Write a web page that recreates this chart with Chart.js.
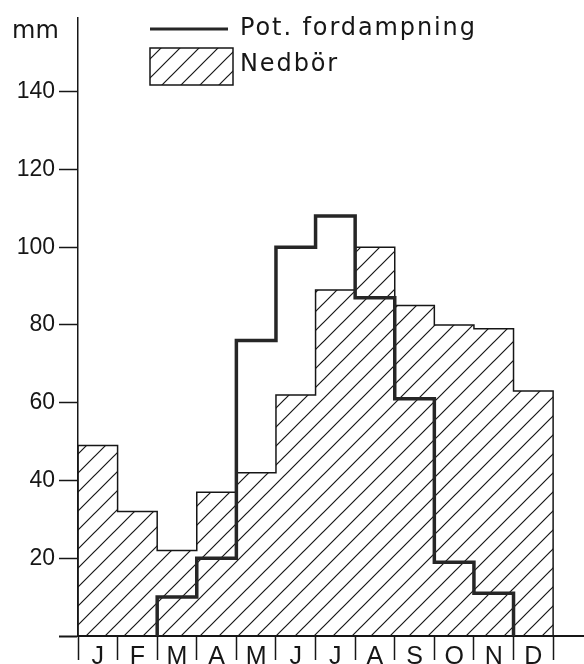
<!DOCTYPE html>
<html>
<head>
<meta charset="utf-8">
<script src="https://cdn.jsdelivr.net/npm/chart.js@4.4.0/dist/chart.umd.min.js"></script>
<style>
  html, body { margin: 0; padding: 0; background: #fff; }
</style>
</head>
<body>
<canvas id="chart" width="584" height="664"></canvas>
<script>
/* DATA */
const months = ["J", "F", "M", "A", "M", "J", "J", "A", "S", "O", "N", "D"];
const nedbor = [49, 32, 22, 37, 42, 62, 89, 100, 85, 80, 79, 63];
const fordampning = [0, 0, 10, 20, 76, 100, 108, 87, 61, 19, 11, 0];
const yTicks = [0, 20, 40, 60, 80, 100, 120, 140];
const seriesNames = ["Pot. fordampning", "Nedbör"];
const yUnit = "mm";

const INK = "#161616";
const yFont = { family: "'Liberation Sans', Arial, sans-serif", size: 23 };
const xFont = { family: "'Liberation Sans Narrow', 'Liberation Sans', Arial, sans-serif", size: 25 };

const canvas = document.getElementById("chart");
const ctx = canvas.getContext("2d");

/* skraverings-mönster */
function hatch(size) {
  const c = document.createElement("canvas");
  c.width = c.height = size;
  const g = c.getContext("2d");
  g.strokeStyle = INK;
  g.lineWidth = 1.2;
  g.beginPath();
  g.moveTo(-2, size + 2); g.lineTo(size + 2, -2);
  g.moveTo(-2, 2); g.lineTo(2, -2);
  g.moveTo(size - 2, size + 2); g.lineTo(size + 2, size - 2);
  g.stroke();
  return ctx.createPattern(c, "repeat");
}

/* month i covers x = i .. i+1 on the linear axis */
function stepPoints(values) {
  let first = values.findIndex(v => v > 0);
  let last = values.length - 1;
  while (last > 0 && values[last] <= 0) last--;
  const pts = [{ x: first, y: 0 }];
  for (let i = first; i <= last; i++) pts.push({ x: i + 1, y: values[i] });
  pts.push({ x: last + 1, y: 0 });
  return pts;
}

const monthTicks = [];
for (let i = 0; i <= months.length; i++) {
  monthTicks.push(i);
  if (i < months.length) monthTicks.push(i + 0.5);
}

/* legend + unit */
const keyPlugin = {
  id: "key",
  afterDraw(chart) {
    const c = chart.ctx;
    const [pet, ned] = chart.data.datasets;
    c.save();
    c.font = "24px 'DejaVu Sans'";
    c.fillStyle = INK;
    c.textBaseline = "alphabetic";
    c.fillText(yUnit, 12, 38);

    c.strokeStyle = pet.borderColor;
    c.lineWidth = 3;
    c.beginPath(); c.moveTo(150, 29); c.lineTo(228, 29); c.stroke();

    c.fillStyle = ned.backgroundColor;
    c.fillRect(150, 48, 83, 37);
    c.strokeStyle = ned.borderColor;
    c.lineWidth = 1.5;
    c.strokeRect(150, 48, 83, 37);

    c.fillStyle = INK;
    c.letterSpacing = "1.9px";
    c.fillText(pet.label, 240, 35);
    c.fillText(ned.label, 240, 71);
    c.restore();
  }
};

new Chart(canvas, {
  type: "line",
  data: {
    datasets: [
      {
        label: seriesNames[0],
        data: stepPoints(fordampning),
        stepped: "after",
        borderColor: "#262626",
        borderWidth: 3.5,
        borderJoinStyle: "miter",
        borderCapStyle: "butt",
        pointRadius: 0,
        fill: false,
        order: 0
      },
      {
        label: seriesNames[1],
        data: stepPoints(nedbor),
        stepped: "after",
        borderColor: INK,
        borderWidth: 1.5,
        borderJoinStyle: "miter",
        backgroundColor: hatch(19),
        pointRadius: 0,
        fill: "origin",
        order: 1
      }
    ]
  },
  options: {
    responsive: false,
    animation: false,
    layout: { padding: { left: 0, top: 13, right: 0, bottom: 0 } },
    plugins: { legend: { display: false }, tooltip: { enabled: false } },
    scales: {
      x: {
        type: "linear",
        min: 0,
        max: 12.78,
        afterBuildTicks: s => { s.ticks = monthTicks.map(v => ({ value: v })); },
        afterFit: s => { s.height = 28; },
        grid: {
          drawOnChartArea: false,
          tickLength: 24,
          tickWidth: 1.5,
          tickColor: c => Number.isInteger(c.tick.value) ? INK : "rgba(0,0,0,0)"
        },
        border: { color: INK, width: 2 },
        ticks: {
          autoSkip: false,
          maxRotation: 0,
          padding: -18,
          color: INK,
          font: xFont,
          callback: v => Number.isInteger(v) ? "" : months[Math.floor(v)]
        }
      },
      y: {
        min: 0,
        max: 159,
        position: "left",
        afterBuildTicks: s => { s.ticks = yTicks.map(v => ({ value: v })); },
        afterFit: s => { s.width = 78; },
        grid: {
          drawOnChartArea: false,
          tickLength: 19,
          tickWidth: c => c.tick.value === 0 ? 2 : 1.5,
          tickColor: INK
        },
        border: { color: INK, width: 1.5 },
        ticks: {
          padding: 4,
          color: INK,
          font: yFont,
          callback: v => v === 0 ? "" : v
        }
      }
    }
  },
  plugins: [keyPlugin]
});
</script>
</body>
</html>
